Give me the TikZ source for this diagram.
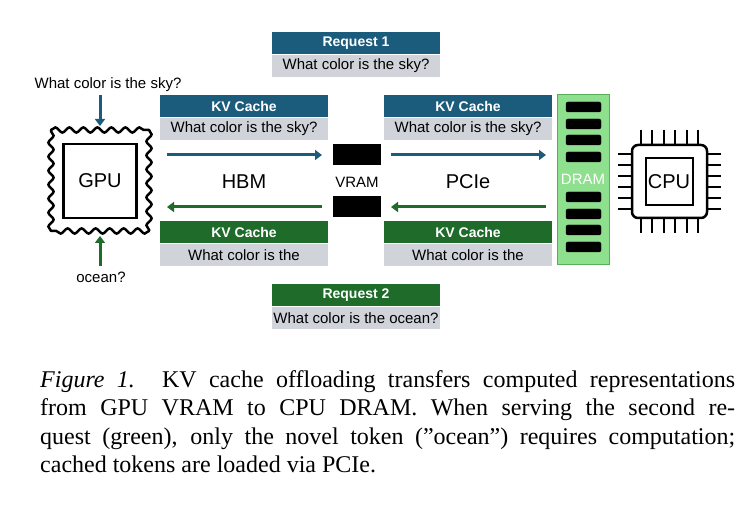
\documentclass[tikz,border=0pt]{standalone}
\usepackage{fontspec}
\setmainfont{Liberation Serif}
\newfontfamily\arial{Liberation Sans}
\usetikzlibrary{decorations.pathmorphing,arrows.meta}
\definecolor{kvblue}{HTML}{1B5C7C}
\definecolor{kvgreen}{HTML}{1E6B2A}
\definecolor{kvgray}{HTML}{D0D4DA}
\definecolor{dramg}{HTML}{8EE08E}
\definecolor{dramb}{HTML}{5AAE5A}
\begin{document}
\begin{tikzpicture}[x=1pt,y=-1pt,
  hdr/.style={minimum width=168pt,minimum height=22pt,inner sep=0pt,text=white,font=\arial\bfseries\fontsize{14}{16}\selectfont},
  body/.style={fill=kvgray,minimum width=168pt,minimum height=22pt,inner sep=0pt,font=\arial\fontsize{15}{17}\selectfont},
  lbl/.style={font=\arial\fontsize{15}{17}\selectfont,inner sep=0pt},
  big/.style={font=\arial\fontsize{20}{22}\selectfont,inner sep=0pt},
  arr/.style={line width=3pt,-{Triangle[length=7pt,width=10pt]}},
  wavy/.style={line width=2.5pt,line cap=round,decorate,decoration={snake,segment length=14pt,amplitude=2.6pt}},
  chip/.style={fill=black,rounded corners=2pt,draw=black},
  vram/.style={fill=black,minimum width=48pt,minimum height=21pt,inner sep=0pt}]
\useasboundingbox (0,0) rectangle (756,526);
% requests
\node[hdr,fill=kvblue] (r1) at (356,43) {Request 1};
\node[body] (r1b) at (356,66) {What color is the sky?};
\node[hdr,fill=kvgreen] (r2) at (356,295) {Request 2};
\node[body] (r2b) at (356,318) {What color is the ocean?};
% KV caches
\node[hdr,fill=kvblue] (kl1) at (244,106) {KV Cache};
\node[body] (kl1b) at (244,129) {What color is the sky?};
\node[hdr,fill=kvblue] (kr1) at (468,106) {KV Cache};
\node[body] (kr1b) at (468,129) {What color is the sky?};
\node[hdr,fill=kvgreen] (kl2) at (244,232) {KV Cache};
\node[body] (kl2b) at (244,255) {What color is the};
\node[hdr,fill=kvgreen] (kr2) at (468,232) {KV Cache};
\node[body] (kr2b) at (468,255) {What color is the};
% VRAM
\node[vram] (v1) at (357,155) {};
\node[vram] (v2) at (357,207) {};
\node[lbl] (vl) at (357,182) {VRAM};
\node[big] (hbm) at (244,182) {HBM};
\node[big] (pcie) at (468,182) {PCIe};
% arrows
\coordinate (a1s) at (167,155); \coordinate (a1e) at (322,155);
\coordinate (a2s) at (391,155); \coordinate (a2e) at (546,155);
\coordinate (a3s) at (322,207); \coordinate (a3e) at (167,207);
\coordinate (a4s) at (546,207); \coordinate (a4e) at (391,207);
\draw[arr,kvblue] (a1s) -- (a1e);
\draw[arr,kvblue] (a2s) -- (a2e);
\draw[arr,kvgreen] (a3s) -- (a3e);
\draw[arr,kvgreen] (a4s) -- (a4e);
% GPU stamp
\draw[wavy] (51,130) -- (149,130);
\draw[wavy] (149,231) -- (51,231);
\draw[wavy] (149,130) -- (149,231);
\draw[wavy] (51,231) -- (51,130);
\node[draw,line width=2.5pt,minimum width=73pt,minimum height=74pt,inner sep=0pt,big] (gpu) at (100,181) {GPU};
\node[lbl] (q1) at (108,85) {What color is the sky?};
\node[lbl] (q2) at (101,277) {ocean?};
\coordinate (g1s) at (100,95); \coordinate (g1e) at (100,126);
\coordinate (g2s) at (100,266); \coordinate (g2e) at (100,236);
\draw[arr,kvblue] (g1s) -- (g1e);
\draw[arr,kvgreen] (g2s) -- (g2e);
% DRAM
\node[draw=dramb,fill=dramg,line width=1pt,minimum width=52pt,minimum height=170pt,inner sep=0pt] (dram) at (583,180) {};
\node[lbl,text=white] (dl) at (583,179) {DRAM};
\foreach \y in {107,124,140,157,197,214,230,247}
  \draw[chip] (566,\y-5) rectangle (601,\y+5);
% CPU
\foreach \x in {641,652,664,675,687,698}{
  \draw[line width=2pt] (\x,130) -- (\x,145);
  \draw[line width=2pt] (\x,218) -- (\x,233);}
\foreach \y in {154,165,176,187,198,209}{
  \draw[line width=2pt] (618,\y) -- (633,\y);
  \draw[line width=2pt] (706,\y) -- (721,\y);}
\draw[line width=2.5pt,rounded corners=6pt,fill=white] (632,145) rectangle (707,218);
\node[draw,line width=2pt,minimum width=47pt,minimum height=47pt,inner sep=0pt,big] (cpu) at (669,182) {CPU};
% caption
\node[anchor=north west,inner sep=0pt,font=\fontsize{24}{28.5}\selectfont] (cap) at (40,370) {\parbox{695pt}{\textit{Figure 1.} KV cache offloading transfers computed representations\linebreak from GPU VRAM to CPU DRAM. When serving the second re-\linebreak quest (green), only the novel token (”ocean”) requires computation;\linebreak cached tokens are loaded via PCIe.}};
\end{tikzpicture}
\end{document}
